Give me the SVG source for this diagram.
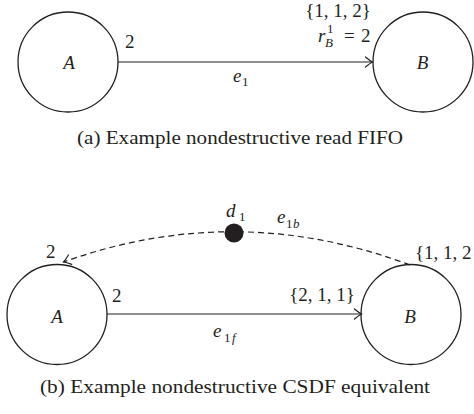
<svg xmlns="http://www.w3.org/2000/svg" width="474" height="414" viewBox="0 0 474 414">
<style>
  text { font-family: "Liberation Serif", "Times New Roman", Times, serif; fill: #231f20; }
  .lbl { font-size: 19px; }
  .it { font-style: italic; }
  .sub { font-size: 13px; }
  .cap { font-size: 18px; }
  .node { fill: none; stroke: #231f20; stroke-width: 1.3; }
  .edge { fill: none; stroke: #231f20; stroke-width: 1.2; }
  .dash { stroke-dasharray: 6 4; }
</style>
<defs>
  <marker id="arr" markerUnits="userSpaceOnUse" markerWidth="12" markerHeight="14" viewBox="-9 -7 12 14" refX="0" refY="0" orient="auto">
    <path d="M -7 -5 Q -2.5 -1.2 0 0 Q -2.5 1.2 -7 5" fill="none" stroke="#231f20" stroke-width="1.2" stroke-linecap="round"/>
  </marker>
</defs>

<!-- (a) -->
<g id="a-nodeA">
  <circle class="node" cx="68" cy="62" r="50"/>
  <text class="lbl it" x="69" y="69" text-anchor="middle">A</text>
</g>
<g id="a-nodeB">
  <circle class="node" cx="423" cy="62" r="50"/>
  <text class="lbl it" x="422.5" y="68.5" text-anchor="middle">B</text>
</g>
<g id="a-edges">
  <line class="edge" x1="118" y1="62" x2="372.5" y2="62" marker-end="url(#arr)"/>
</g>
<g id="a-labels">
  <text class="lbl" x="125" y="48">2</text>
  <text class="lbl it" x="233" y="82">e</text>
  <text class="sub" x="242" y="86">1</text>
  <text class="lbl" x="371" y="17" text-anchor="end">{1, 1, 2}</text>
  <text class="lbl it" x="318" y="42">r</text>
  <text class="sub" x="327" y="33">1</text>
  <text class="sub it" x="325" y="47">B</text>
  <text class="lbl" x="344" y="42">=</text>
  <text class="lbl" x="361" y="42">2</text>
  <text class="cap" x="77" y="144" textLength="326" lengthAdjust="spacingAndGlyphs">(a) Example nondestructive read FIFO</text>
</g>

<!-- (b) -->
<g id="b-nodeA">
  <circle class="node" cx="57" cy="314.5" r="50"/>
  <text class="lbl it" x="57" y="322.5" text-anchor="middle">A</text>
</g>
<g id="b-nodeB">
  <circle class="node" cx="411" cy="314.5" r="50"/>
  <text class="lbl it" x="410" y="322.5" text-anchor="middle">B</text>
</g>
<g id="b-node-d1">
  <circle cx="234" cy="233" r="9.5" fill="#231f20"/>
  <text class="lbl it" x="226" y="217">d</text>
  <text class="sub" x="239" y="220.5">1</text>
</g>
<g id="b-edges">
  <line class="edge" x1="107" y1="314" x2="361.5" y2="314" marker-end="url(#arr)"/>
  <path class="edge dash" d="M 410 265 Q 236 200 63.5 262" marker-end="url(#arr)"/>
</g>
<g id="b-labels">
  <text class="lbl" x="112" y="302">2</text>
  <text class="lbl" x="46" y="258">2</text>
  <text class="lbl" x="355" y="301" text-anchor="end">{2, 1, 1}</text>
  <text class="lbl" x="415" y="259">{1, 1, 2</text>
  <text class="lbl it" x="213" y="337">e</text>
  <text class="sub" x="224" y="342">1</text>
  <text class="sub it" x="232" y="342">f</text>
  <text class="lbl it" x="277" y="223">e</text>
  <text class="sub" x="286" y="228">1</text>
  <text class="sub it" x="293" y="228">b</text>
  <text class="cap" x="40" y="393" textLength="390" lengthAdjust="spacingAndGlyphs">(b) Example nondestructive CSDF equivalent</text>
</g>
</svg>
